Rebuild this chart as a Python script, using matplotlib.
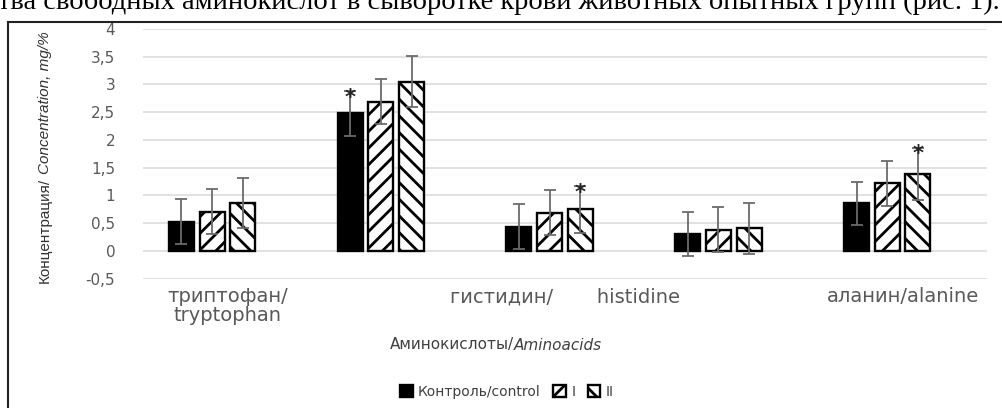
import matplotlib
matplotlib.use('Agg')
import matplotlib.pyplot as plt
import numpy as np

# Data
categories = ['триптофан/\ntryptophan', '', 'гистидин/       histidine', '', 'аланин/alanine']
series_names = ['Контроль/control', 'I', 'II']
control = [0.53, 2.48, 0.44, 0.31, 0.86]
group_1 = [0.71, 2.69, 0.69, 0.385, 1.22]
group_2 = [0.86, 3.05, 0.75, 0.41, 1.39]
control_err = [0.40, 0.40, 0.40, 0.40, 0.39]
group_1_err = [0.41, 0.40, 0.40, 0.40, 0.41]
group_2_err = [0.45, 0.46, 0.42, 0.46, 0.47]
# (series index, category index) of significant differences
stars = [(0, 1), (2, 2), (2, 4)]
yticks = [-0.5, 0, 0.5, 1, 1.5, 2, 2.5, 3, 3.5, 4]
ytick_labels = ['-0,5', '0', '0,5', '1', '1,5', '2', '2,5', '3', '3,5', '4']

values = [control, group_1, group_2]
errors = [control_err, group_1_err, group_2_err]
hatches = [None, '//', '\\\\']

plt.rcParams['font.family'] = ['DejaVu Sans']
plt.rcParams['hatch.linewidth'] = 2.0

W, H = 1003, 408
fig = plt.figure(figsize=(W / 100, H / 100), dpi=100)
ax = fig.add_axes([143 / W, 1 - 278.7 / H, (987 - 143) / W, (278.7 - 29) / H])

x = np.arange(len(categories))
slot = 0.182
width = 0.148
gray = '#595959'

bars = []
for j in range(3):
    pos = x + (j - 1.5) * slot
    b = ax.bar(pos, values[j], width, color='black' if j == 0 else 'white',
               edgecolor='black', linewidth=1.7, hatch=hatches[j],
               label=series_names[j], zorder=2)
    bars.append(b)
    ax.errorbar(pos, values[j], yerr=errors[j], fmt='none', ecolor='#6b6b6b',
                elinewidth=1.3, capsize=4, capthick=1.3, zorder=3)

for j, i in stars:
    xp = i + (j - 1.5) * slot
    top = values[j][i] + errors[j][i]
    ax.annotate('*', xy=(xp, top), xytext=(0, -9), textcoords='offset points',
                ha='center', va='baseline', fontsize=15, fontweight='bold',
                color='#222222', zorder=4)

ax.set_xlim(-0.5, len(categories) - 0.5)
ax.set_ylim(-0.5, 4)
ax.set_yticks(yticks)
ax.set_yticklabels(ytick_labels)
ax.set_xticks(x)
ax.set_xticklabels(categories, linespacing=1.0)
ax.tick_params(axis='y', length=0, pad=20, labelsize=11, labelcolor=gray)
ax.tick_params(axis='x', length=0, pad=6, labelsize=14, labelcolor=gray)
ax.grid(axis='y', color='#d9d9d9', linewidth=1.1, zorder=0)
ax.set_axisbelow(True)
for s in ax.spines.values():
    s.set_visible(False)

fig.canvas.draw()
r = fig.canvas.get_renderer()

# y axis title, regular + italic parts placed one after the other
yfont = ['Liberation Sans', 'DejaVu Sans']
ty1 = fig.text(45 / W, 1 - 283 / H, 'Концентрация/', rotation=90, rotation_mode='anchor',
               ha='left', va='center', family=yfont, fontsize=11, color='#333333')
h1 = ty1.get_window_extent(r).height
fig.text(45 / W, 1 - (283 - h1 - 4) / H, 'Concentration, mg/%', rotation=90,
         rotation_mode='anchor', ha='left', va='center', family=yfont, fontsize=11,
         style='italic', color='#333333')

# x axis title, regular + italic parts, centred as a whole
t1 = fig.text(0, 1 - 345 / H, 'Аминокислоты/', ha='left', va='center',
              fontsize=11, color='#404040')
t2 = fig.text(0, 1 - 345 / H, 'Aminoacids', ha='left', va='center',
              fontsize=11, style='italic', color='#404040')
w1 = t1.get_window_extent(r).width
w2 = t2.get_window_extent(r).width
x0 = 496 - (w1 + w2) / 2
t1.set_x(x0 / W)
t2.set_x((x0 + w1) / W)

fig.legend(handles=bars, labels=series_names, loc='center',
           bbox_to_anchor=(507 / W, 16 / H), ncol=3, frameon=False,
           fontsize=10, handlelength=0.9, handleheight=0.9, handletextpad=0.4,
           columnspacing=0.9, labelcolor='#404040')

# frame of the chart and the cut-off text line above it
fig.add_artist(plt.Line2D([8 / W, 8 / W], [0, 1 - 22 / H], color='#222222', linewidth=1.5))
fig.add_artist(plt.Line2D([8 / W, 1], [1 - 22 / H, 1 - 22 / H], color='#222222', linewidth=1.5))
fig.text(-2 / W, 1 - 9 / H, 'тва свободных аминокислот в сыворотке крови животных опытных групп (рис. 1).',
         ha='left', va='baseline', family=['Liberation Serif', 'DejaVu Serif'],
         fontsize=20.5, color='black')

fig.savefig('out.png', dpi=100)
